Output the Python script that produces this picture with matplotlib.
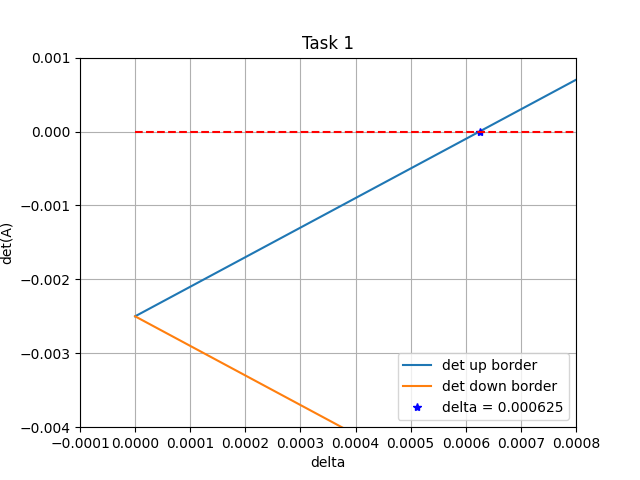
import matplotlib
matplotlib.use("Agg")
import matplotlib.pyplot as plt

delta = [0.0, 0.0008]
det_up = [-0.0025, 0.0007]
det_down = [-0.0025, -0.0057]
zero_line = [0.0, 0.0]
root_delta = 0.000625
root_val = 0.0

fig, ax = plt.subplots(figsize=(6.4, 4.8), dpi=100)
ax.plot(delta, det_up, label="det up border")
ax.plot(delta, det_down, label="det down border")
ax.plot([root_delta], [root_val], "b*", label="delta = 0.000625")
ax.plot(delta, zero_line, "r--")
ax.set_xlim(-0.0001, 0.0008)
ax.set_ylim(-0.004, 0.001)
ax.set_title("Task 1")
ax.set_xlabel("delta")
ax.set_ylabel("det(A)")
ax.grid(True)
ax.legend(loc="lower right")
fig.savefig("out.png")
